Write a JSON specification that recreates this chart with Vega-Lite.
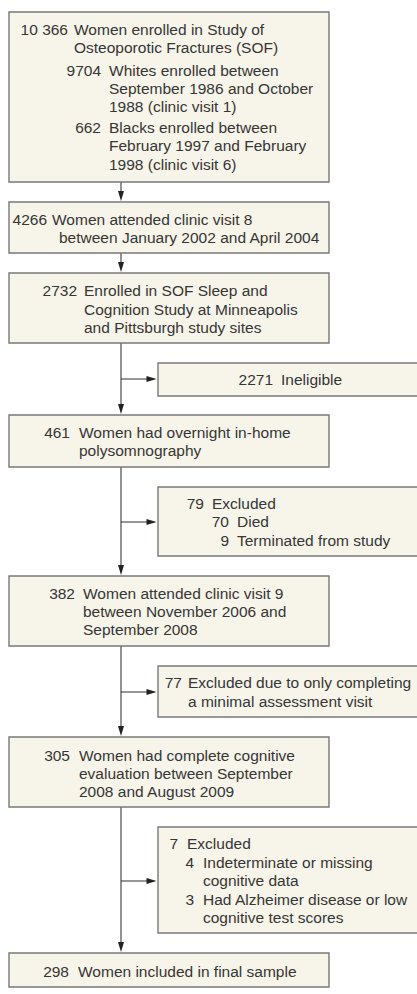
{
  "$schema": "https://vega.github.io/schema/vega-lite/v6.json",
  "width": 417,
  "height": 994,
  "autosize": {"type": "fit", "contains": "padding"},
  "padding": 0,
  "background": "#ffffff",
  "config": {"view": {"stroke": null}},
  "datasets": {
    "boxes": [
      {"x": 9, "x2": 329, "y": 12, "y2": 182},
      {"x": 9, "x2": 329, "y": 202, "y2": 253},
      {"x": 9, "x2": 329, "y": 273, "y2": 343},
      {"x": 158, "x2": 425, "y": 363, "y2": 396},
      {"x": 9, "x2": 329, "y": 415, "y2": 467},
      {"x": 158, "x2": 425, "y": 487, "y2": 556},
      {"x": 9, "x2": 329, "y": 576, "y2": 646},
      {"x": 158, "x2": 425, "y": 666, "y2": 717},
      {"x": 9, "x2": 329, "y": 737, "y2": 807},
      {"x": 158, "x2": 425, "y": 827, "y2": 933},
      {"x": 9, "x2": 329, "y": 953, "y2": 987}
    ],
    "vlines": [
      {"x": 121, "x2": 121, "y": 182, "y2": 198},
      {"x": 121, "x2": 121, "y": 253, "y2": 269},
      {"x": 121, "x2": 121, "y": 343, "y2": 411},
      {"x": 121, "x2": 121, "y": 467, "y2": 572},
      {"x": 121, "x2": 121, "y": 646, "y2": 733},
      {"x": 121, "x2": 121, "y": 807, "y2": 949}
    ],
    "hlines": [
      {"x": 121, "x2": 150, "y": 379, "y2": 379},
      {"x": 121, "x2": 150, "y": 522, "y2": 522},
      {"x": 121, "x2": 150, "y": 692, "y2": 692},
      {"x": 121, "x2": 150, "y": 881, "y2": 881}
    ],
    "arrows": [
      {"x": 121, "y": 201, "shape": "M-0.3,-1L0.3,-1L0,0Z"},
      {"x": 121, "y": 272, "shape": "M-0.3,-1L0.3,-1L0,0Z"},
      {"x": 121, "y": 414, "shape": "M-0.3,-1L0.3,-1L0,0Z"},
      {"x": 121, "y": 575, "shape": "M-0.3,-1L0.3,-1L0,0Z"},
      {"x": 121, "y": 736, "shape": "M-0.3,-1L0.3,-1L0,0Z"},
      {"x": 121, "y": 952, "shape": "M-0.3,-1L0.3,-1L0,0Z"},
      {"x": 156.5, "y": 379, "shape": "M-1,-0.3L-1,0.3L0,0Z"},
      {"x": 156.5, "y": 522, "shape": "M-1,-0.3L-1,0.3L0,0Z"},
      {"x": 156.5, "y": 692, "shape": "M-1,-0.3L-1,0.3L0,0Z"},
      {"x": 156.5, "y": 881, "shape": "M-1,-0.3L-1,0.3L0,0Z"}
    ],
    "texts": [
      {"k": "n", "x": 68, "y": 35, "t": "10 366"},
      {"k": "t", "x": 74, "y": 35, "t": "Women enrolled in Study of"},
      {"k": "t", "x": 74, "y": 53, "t": "Osteoporotic Fractures (SOF)"},
      {"k": "n", "x": 101, "y": 76, "t": "9704"},
      {"k": "t", "x": 109, "y": 76, "t": "Whites enrolled between"},
      {"k": "t", "x": 109, "y": 94, "t": "September 1986 and October"},
      {"k": "t", "x": 109, "y": 112, "t": "1988 (clinic visit 1)"},
      {"k": "n", "x": 101, "y": 133, "t": "662"},
      {"k": "t", "x": 109, "y": 133, "t": "Blacks enrolled between"},
      {"k": "t", "x": 109, "y": 151, "t": "February 1997 and February"},
      {"k": "t", "x": 109, "y": 170, "t": "1998 (clinic visit 6)"},
      {"k": "n", "x": 47, "y": 225, "t": "4266"},
      {"k": "t", "x": 52, "y": 225, "t": "Women attended clinic visit 8"},
      {"k": "t", "x": 59, "y": 243, "t": "between January 2002 and April 2004"},
      {"k": "n", "x": 77, "y": 296, "t": "2732"},
      {"k": "t", "x": 84, "y": 296, "t": "Enrolled in SOF Sleep and"},
      {"k": "t", "x": 84, "y": 315, "t": "Cognition Study at Minneapolis"},
      {"k": "t", "x": 84, "y": 333, "t": "and Pittsburgh study sites"},
      {"k": "n", "x": 273, "y": 385, "t": "2271"},
      {"k": "t", "x": 281, "y": 385, "t": "Ineligible"},
      {"k": "n", "x": 70, "y": 438, "t": "461"},
      {"k": "t", "x": 79, "y": 438, "t": "Women had overnight in-home"},
      {"k": "t", "x": 79, "y": 456, "t": "polysomnography"},
      {"k": "n", "x": 204, "y": 509, "t": "79"},
      {"k": "t", "x": 212, "y": 509, "t": "Excluded"},
      {"k": "n", "x": 229, "y": 527, "t": "70"},
      {"k": "t", "x": 237, "y": 527, "t": "Died"},
      {"k": "n", "x": 229, "y": 546, "t": "9"},
      {"k": "t", "x": 237, "y": 546, "t": "Terminated from study"},
      {"k": "n", "x": 75, "y": 599, "t": "382"},
      {"k": "t", "x": 83, "y": 599, "t": "Women attended clinic visit 9"},
      {"k": "t", "x": 83, "y": 617, "t": "between November 2006 and"},
      {"k": "t", "x": 83, "y": 635, "t": "September 2008"},
      {"k": "n", "x": 182, "y": 688, "t": "77"},
      {"k": "t", "x": 188, "y": 688, "t": "Excluded due to only completing"},
      {"k": "t", "x": 188, "y": 707, "t": "a minimal assessment visit"},
      {"k": "n", "x": 70, "y": 761, "t": "305"},
      {"k": "t", "x": 79, "y": 761, "t": "Women had complete cognitive"},
      {"k": "t", "x": 79, "y": 779, "t": "evaluation between September"},
      {"k": "t", "x": 79, "y": 797, "t": "2008 and August 2009"},
      {"k": "n", "x": 178, "y": 849, "t": "7"},
      {"k": "t", "x": 187, "y": 849, "t": "Excluded"},
      {"k": "n", "x": 194, "y": 868, "t": "4"},
      {"k": "t", "x": 203, "y": 868, "t": "Indeterminate or missing"},
      {"k": "t", "x": 203, "y": 886, "t": "cognitive data"},
      {"k": "n", "x": 194, "y": 905, "t": "3"},
      {"k": "t", "x": 203, "y": 905, "t": "Had Alzheimer disease or low"},
      {"k": "t", "x": 203, "y": 923, "t": "cognitive test scores"},
      {"k": "n", "x": 69, "y": 977, "t": "298"},
      {"k": "t", "x": 78, "y": 977, "t": "Women included in final sample"}
    ]
  },
  "encoding": {
    "x": {"field": "x", "type": "quantitative", "scale": {"domain": [0, 417], "nice": false, "zero": false}, "axis": null},
    "y": {"field": "y", "type": "quantitative", "scale": {"domain": [0, 994], "nice": false, "zero": false, "reverse": true}, "axis": null}
  },
  "layer": [
    {
      "data": {"name": "vlines"},
      "mark": {"type": "rule", "color": "#777777", "strokeWidth": 1.6},
      "encoding": {"x2": {"field": "x2"}, "y2": {"field": "y2"}}
    },
    {
      "data": {"name": "hlines"},
      "mark": {"type": "rule", "color": "#2e2e2e", "strokeWidth": 1},
      "encoding": {"x2": {"field": "x2"}, "y2": {"field": "y2"}}
    },
    {
      "data": {"name": "arrows"},
      "mark": {"type": "point", "filled": true, "color": "#222222", "opacity": 1, "size": 400, "strokeWidth": 0},
      "encoding": {"shape": {"field": "shape", "type": "nominal", "scale": null, "legend": null}}
    },
    {
      "data": {"name": "boxes"},
      "mark": {"type": "rect", "fill": "#f7f4e9", "stroke": "#787878", "strokeWidth": 1.4, "clip": true},
      "encoding": {"x2": {"field": "x2"}, "y2": {"field": "y2"}}
    },
    {
      "data": {"name": "texts"},
      "transform": [{"filter": "datum.k === 'n'"}],
      "mark": {"type": "text", "align": "right", "baseline": "alphabetic", "font": "Liberation Sans", "fontSize": 15.5, "color": "#363636"},
      "encoding": {"text": {"field": "t"}}
    },
    {
      "data": {"name": "texts"},
      "transform": [{"filter": "datum.k === 't'"}],
      "mark": {"type": "text", "align": "left", "baseline": "alphabetic", "font": "Liberation Sans", "fontSize": 15.5, "color": "#363636"},
      "encoding": {"text": {"field": "t"}}
    }
  ]
}
